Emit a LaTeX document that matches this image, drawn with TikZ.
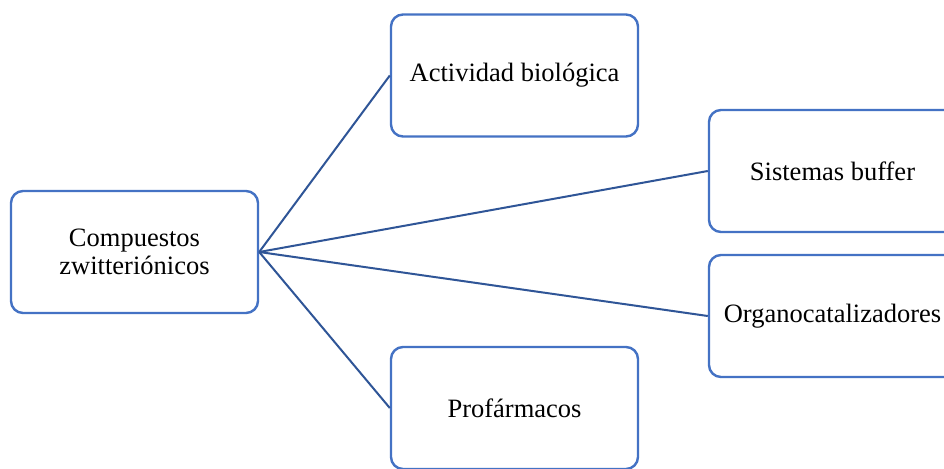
\documentclass[tikz,border=0pt]{standalone}
\usepackage{fontspec}
\setmainfont{Liberation Serif}
\definecolor{boxblue}{HTML}{4472C4}
\definecolor{linkblue}{HTML}{2F5597}
\begin{document}
\begin{tikzpicture}[x=1pt,y=-1pt,
  topic/.style={draw=boxblue, line width=2.4pt, rounded corners=12pt, fill=white,
    minimum width=247pt, minimum height=122pt, inner sep=0pt, align=center,
    font=\fontsize{26.5}{28}\selectfont},
  link/.style={draw=linkblue, line width=2pt}]
\useasboundingbox (0,0) rectangle (944,468);
\clip (0,0) rectangle (944,468);
\fill[white] (0,0) rectangle (944,468);
\node[topic] (comp) at (134.5,252) {Compuestos\\zwitteriónicos};
\node[topic] (act) at (514.5,75.5) {Actividad biológica};
\node[topic] (sis) at (832.5,171) {Sistemas buffer};
\node[topic] (org) at (832.5,316) {Organocatalizadores};
\node[topic] (pro) at (514.5,408) {Profármacos};
\draw[link] (comp.east) -- (act.west);
\draw[link] (comp.east) -- (sis.west);
\draw[link] (comp.east) -- (org.west);
\draw[link] (comp.east) -- (pro.west);
\end{tikzpicture}
\end{document}
